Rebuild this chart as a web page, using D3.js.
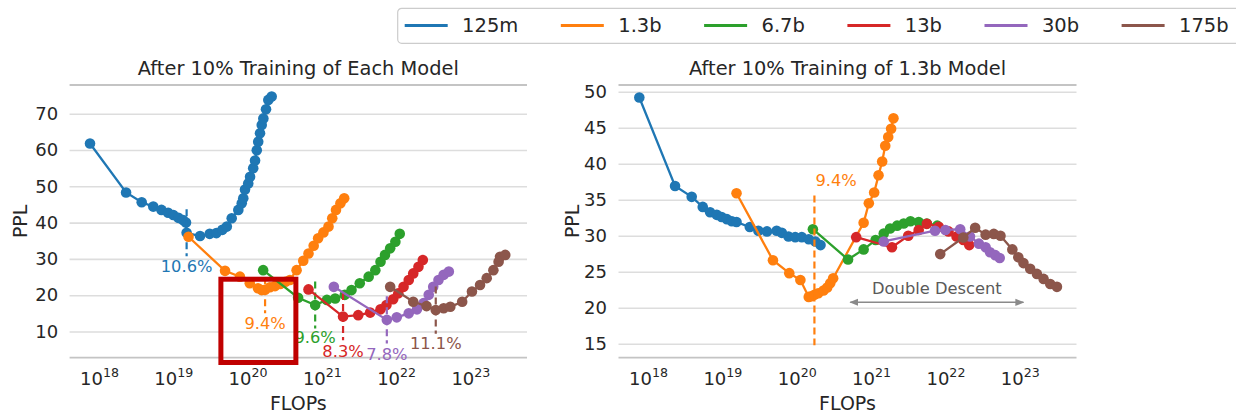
<!DOCTYPE html>
<html><head><meta charset="utf-8">
<script src="https://cdn.jsdelivr.net/npm/d3@7"></script>
<style>
body{margin:0;background:#fff}
svg{display:block}
text{font-family:"DejaVu Sans",sans-serif;fill:#262626}
</style>
</head><body>
<svg id="chart" width="1236" height="413"></svg>
<script>
// ---------- categories / styles ----------
const models = ["125m", "1.3b", "6.7b", "13b", "30b", "175b"];
const colors = ["#1f77b4", "#ff7f0e", "#2ca02c", "#d62728", "#9467bd", "#8c564b"];
const xTickValues = [1e18, 1e19, 1e20, 1e21, 1e22, 1e23];
const xTickExponents = ["18", "19", "20", "21", "22", "23"];
const leftYTicks = [10, 20, 30, 40, 50, 60, 70];
const rightYTicks = [15, 20, 25, 30, 35, 40, 45, 50];
const leftTitle = "After 10% Training of Each Model";
const rightTitle = "After 10% Training of 1.3b Model";

// ---------- left panel: each model's own curve ----------
const leftFlops125m = [7.55e17,2.31e18,3.75e18,5.37e18,6.92e18,8.51e18,1.00e19,1.17e19,1.35e19,1.48e19,1.51e19,2.29e19,3.09e19,3.80e19,4.57e19,5.25e19,6.11e19,7.50e19,8.34e19,8.75e19,9.23e19,1.02e20,1.08e20,1.19e20,1.26e20,1.33e20,1.39e20,1.47e20,1.55e20,1.63e20,1.77e20,1.90e20,2.11e20];
const leftPPL125m   = [61.8,48.3,45.6,44.4,43.5,42.7,42.1,41.3,40.7,40.0,37.2,36.3,36.9,37.1,38.0,38.9,41.2,43.5,45.3,46.7,49.1,50.8,52.6,55.0,57.1,59.9,62.3,64.6,66.9,68.7,71.2,73.8,74.7];
const leftFlops1_3b = [1.60e19,4.97e19,7.89e19,1.07e20,1.38e20,1.55e20,1.72e20,2.00e20,2.34e20,2.75e20,3.24e20,3.72e20,4.57e20,5.62e20,6.61e20,7.76e20,8.91e20,1.05e21,1.23e21,1.38e21,1.55e21,1.78e21,2.00e21];
const leftPPL1_3b   = [36.1,26.7,25.1,23.3,21.9,21.4,21.5,22.2,22.5,23.1,23.7,24.2,26.9,29.5,31.5,33.6,35.7,37.3,38.9,41.2,43.5,45.3,46.7];
const leftFlops6_7b = [1.62e20,4.79e20,8.13e20,1.17e21,1.51e21,2.04e21,2.51e21,3.24e21,4.27e21,5.25e21,6.17e21,7.08e21,8.32e21,9.77e21,1.12e22];
const leftPPL6_7b   = [26.9,19.3,17.3,18.7,19.1,20.1,21.4,23.3,25.1,26.9,29.2,31.1,32.9,34.7,36.9];
const leftFlops13b  = [6.61e20,1.93e21,3.09e21,4.47e21,6.17e21,7.41e21,9.12e21,1.07e22,1.26e22,1.48e22,1.70e22,2.00e22,2.29e22];
const leftPPL13b    = [21.6,14.1,14.5,15.2,16.1,17.3,18.9,20.5,22.3,24.2,26.0,27.8,29.7];
const leftFlops30b  = [1.45e21,7.50e21,1.02e22,1.48e22,1.91e22,2.34e22,2.75e22,3.16e22,3.72e22,4.37e22,5.13e22];
const leftPPL30b    = [22.3,13.2,13.9,15.0,16.1,17.8,20.1,22.3,24.2,25.6,26.5];
const leftFlops175b = [8.32e21,1.70e22,2.57e22,3.42e22,4.37e22,5.37e22,7.76e22,1.05e23,1.35e23,1.66e23,2.04e23,2.40e23,2.51e23,2.95e23];
const leftPPL175b   = [22.3,18.2,17.0,15.9,16.4,16.8,18.2,21.0,22.8,24.7,26.9,29.2,30.6,31.1];

// markers of the 10%-training point in the left panel
const leftPctFlops  = [1.51e19, 1.72e20, 8.13e20, 1.93e21, 7.50e21, 3.42e22];
const leftPctPPL    = [37.2, 21.5, 17.3, 14.1, 13.2, 15.9];
const leftPctLabels = ["10.6%", "9.4%", "9.6%", "8.3%", "7.8%", "11.1%"];

// ---------- right panel: all models at 10% of 1.3b compute ----------
const rightFlops125m = [7.64e17,2.31e18,3.87e18,5.45e18,6.84e18,8.41e18,9.77e18,1.15e19,1.34e19,1.55e19,2.34e19,3.05e19,3.98e19,5.37e19,6.31e19,7.76e19,9.55e19,1.17e20,1.45e20,1.78e20,2.09e20];
const rightPPL125m   = [49.2,36.9,35.4,34.0,33.25,32.9,32.6,32.3,32.0,31.9,31.2,30.7,30.6,30.7,30.4,29.9,29.8,29.8,29.5,29.2,28.7];
const rightFlops1_3b = [1.55e19,4.79e19,7.94e19,1.12e20,1.45e20,1.58e20,1.73e20,1.95e20,2.29e20,2.57e20,2.82e20,3.09e20,7.94e20,9.33e20,1.10e21,1.26e21,1.41e21,1.55e21,1.70e21,1.86e21,2.00e21];
const rightPPL1_3b   = [35.9,26.6,24.8,23.85,21.5,21.6,21.8,22.0,22.4,22.8,23.4,24.1,31.8,34.5,36.0,38.4,40.3,42.5,43.7,44.85,46.3];
const rightFlops6_7b = [1.65e20,4.90e20,7.94e20,1.15e21,1.48e21,1.80e21,2.24e21,2.75e21,3.39e21,4.37e21,5.62e21,7.76e21];
const rightPPL6_7b   = [30.9,26.7,28.1,29.4,30.3,31.0,31.4,31.7,32.0,31.9,31.7,31.4];
const rightFlops13b  = [6.31e20,1.91e21,3.16e21,4.37e21,5.62e21,8.13e21,1.10e22,1.41e22,1.74e22,2.09e22];
const rightPPL13b    = [29.8,28.4,30.0,30.8,31.65,31.25,30.6,29.9,29.4,28.7];
const rightFlops30b  = [1.48e21,7.24e21,1.00e22,1.58e22,2.14e22,2.82e22,3.47e22,3.98e22,4.68e22,5.37e22];
const rightPPL30b    = [29.2,30.7,30.8,30.9,29.9,28.9,28.4,27.7,27.3,26.9];
const rightFlops175b = [8.51e21,1.74e22,2.51e22,3.47e22,4.47e22,5.50e22,7.94e22,9.55e22,1.12e23,1.38e23,1.70e23,2.09e23,2.57e23,3.16e23];
const rightPPL175b   = [27.45,29.75,31.1,30.15,30.25,30.0,28.1,27.0,26.2,25.4,24.7,24.0,23.3,22.9];

const rightPctFlops = 1.73e20;
const rightPctRange = [35.6, 14.8];
const rightPctLabel = "9.4%";
const ddLabel = "Double Descent";
const ddFlops = [5.25e20, 1.12e23];
const ddPPL = 20.75;
const ddLabelPPL = 22.7;

// highlight box on the left panel (flops range, ppl range)
const boxFlops = [4.37e19, 4.47e20];
const boxPPL = [24.4, 1.46];

const leftSeries = [
  [leftFlops125m, leftPPL125m], [leftFlops1_3b, leftPPL1_3b], [leftFlops6_7b, leftPPL6_7b],
  [leftFlops13b, leftPPL13b], [leftFlops30b, leftPPL30b], [leftFlops175b, leftPPL175b]];
const rightSeries = [
  [rightFlops125m, rightPPL125m], [rightFlops1_3b, rightPPL1_3b], [rightFlops6_7b, rightPPL6_7b],
  [rightFlops13b, rightPPL13b], [rightFlops30b, rightPPL30b], [rightFlops175b, rightPPL175b]];

// ---------- drawing ----------
const svg = d3.select("#chart");
const TICK_FS = 18, LABEL_FS = 19, TITLE_FS = 19.4, PCT_FS = 16.3;
const labelNudge = [0, 0, -1.5, 1.5, 1, 0];

function makePanel(cfg) {
  const g = svg.append("g");
  const x = d3.scaleLog().domain([4.01e17, 5.79e23]).range([cfg.left, cfg.right]);
  const y = d3.scaleLinear().domain(cfg.yDomain).range([cfg.bottom, cfg.top]);
  const w = cfg.right - cfg.left;

  const ya = g.append("g").attr("transform", `translate(${cfg.left},0)`)
    .call(d3.axisLeft(y).tickValues(cfg.yTicks).tickSize(-w).tickPadding(11.5));
  ya.select(".domain").remove();
  ya.selectAll(".tick line").attr("stroke", "#dddddd").attr("stroke-width", 1.6);
  ya.selectAll(".tick text").attr("font-size", TICK_FS).attr("font-family", "DejaVu Sans").attr("fill", "#262626");

  g.append("line").attr("x1", cfg.left).attr("x2", cfg.right).attr("y1", cfg.top).attr("y2", cfg.top)
    .attr("stroke", "#c4c4c4").attr("stroke-width", 1.8);
  g.append("line").attr("x1", cfg.left).attr("x2", cfg.right).attr("y1", cfg.bottom).attr("y2", cfg.bottom)
    .attr("stroke", "#c4c4c4").attr("stroke-width", 1.8);

  const xa = g.append("g").attr("transform", `translate(0,${cfg.bottom})`)
    .call(d3.axisBottom(x).tickValues(xTickValues).tickSize(0).tickFormat(""));
  xa.select(".domain").remove();
  xa.selectAll(".tick text").each(function(d, i) {
    const t = d3.select(this);
    t.attr("y", 27.3).attr("dy", null).attr("font-size", TICK_FS).attr("fill", "#262626").attr("font-family", "DejaVu Sans");
    t.append("tspan").text("10");
    t.append("tspan").attr("dy", -8).attr("font-size", TICK_FS * 0.7).text(xTickExponents[i]);
  });

  const cx = (cfg.left + cfg.right) / 2;
  g.append("text").attr("x", cx).attr("y", 75).attr("text-anchor", "middle").attr("font-size", TITLE_FS).text(cfg.title);
  g.append("text").attr("x", cx).attr("y", 410).attr("text-anchor", "middle").attr("font-size", LABEL_FS).text("FLOPs");
  g.append("text").attr("transform", `translate(${cfg.ylabelX},${(cfg.top + cfg.bottom) / 2}) rotate(-90)`)
    .attr("text-anchor", "middle").attr("font-size", LABEL_FS).text("PPL");
  return {g, x, y};
}

function drawSeries(p, flops, ppl, color) {
  const pts = flops.map((f, i) => [f, ppl[i]]);
  p.g.append("path").datum(pts)
    .attr("d", d3.line().x(d => p.x(d[0])).y(d => p.y(d[1])))
    .attr("fill", "none").attr("stroke", color).attr("stroke-width", 2.3);
  p.g.append("g").selectAll("circle").data(pts).join("circle")
    .attr("cx", d => p.x(d[0])).attr("cy", d => p.y(d[1])).attr("r", 5.3).attr("fill", color);
}

// LEFT PANEL
const L = makePanel({left: 69.6, right: 527, top: 85, bottom: 357.7, yDomain: [2.78, 77.9],
  yTicks: leftYTicks, title: leftTitle, ylabelX: 27});
leftSeries.forEach((s, i) => {
  drawSeries(L, s[0], s[1], colors[i]);
  const xx = L.x(leftPctFlops[i]);
  L.g.append("line").attr("x1", xx).attr("x2", xx)
    .attr("y1", L.y(leftPctPPL[i] + 6.5)).attr("y2", L.y(leftPctPPL[i] - 6.5))
    .attr("stroke", colors[i]).attr("stroke-width", 2.2).attr("stroke-dasharray", "7,4");
  L.g.append("text").attr("x", xx).attr("y", L.y(leftPctPPL[i] - 6.5) + 10 + labelNudge[i])
    .attr("text-anchor", "middle").attr("dominant-baseline", "central")
    .attr("font-size", PCT_FS).style("fill", colors[i]).text(leftPctLabels[i]);
});

// RIGHT PANEL
const R = makePanel({left: 618.5, right: 1076.5, top: 85, bottom: 357.7, yDomain: [13.06, 50.93],
  yTicks: rightYTicks, title: rightTitle, ylabelX: 579});
rightSeries.forEach((s, i) => drawSeries(R, s[0], s[1], colors[i]));
{
  const xx = R.x(rightPctFlops);
  R.g.append("line").attr("x1", xx).attr("x2", xx)
    .attr("y1", R.y(rightPctRange[0])).attr("y2", R.y(rightPctRange[1]))
    .attr("stroke", colors[1]).attr("stroke-width", 2.2).attr("stroke-dasharray", "7,4");
  R.g.append("text").attr("x", xx + 1).attr("y", R.y(rightPctRange[0]) - 15)
    .attr("dominant-baseline", "central").attr("font-size", PCT_FS).style("fill", colors[1]).text(rightPctLabel);

  const defs = svg.append("defs");
  defs.append("marker").attr("id", "ah").attr("viewBox", "0 0 10 10").attr("refX", 9).attr("refY", 5)
    .attr("markerWidth", 9).attr("markerHeight", 9).attr("markerUnits", "userSpaceOnUse").attr("orient", "auto-start-reverse")
    .append("path").attr("d", "M0,1 L10,5 L0,9 Z").attr("fill", "#8a8a8a");
  R.g.append("line").attr("x1", R.x(ddFlops[0])).attr("x2", R.x(ddFlops[1]))
    .attr("y1", R.y(ddPPL)).attr("y2", R.y(ddPPL))
    .attr("stroke", "#8a8a8a").attr("stroke-width", 1.6)
    .attr("marker-start", "url(#ah)").attr("marker-end", "url(#ah)");
  R.g.append("text").attr("x", (R.x(ddFlops[0]) + R.x(ddFlops[1])) / 2)
    .attr("y", R.y(ddLabelPPL)).attr("text-anchor", "middle").attr("dominant-baseline", "central")
    .attr("font-family", "Liberation Sans, Arial, sans-serif").attr("font-size", 16.3).style("fill", "#5a5a5a").text(ddLabel);
}

// highlight box
svg.append("rect")
  .attr("x", L.x(boxFlops[0])).attr("y", L.y(boxPPL[0]))
  .attr("width", L.x(boxFlops[1]) - L.x(boxFlops[0])).attr("height", L.y(boxPPL[1]) - L.y(boxPPL[0]))
  .attr("fill", "none").attr("stroke", "#c00000").attr("stroke-width", 5);

// legend
const lg = svg.append("g");
lg.append("rect").attr("x", 397.7).attr("y", 8.3).attr("width", 850).attr("height", 35).attr("rx", 4)
  .attr("fill", "#fff").attr("stroke", "#cccccc").attr("stroke-width", 1.2);
let lx = 404.7;
models.forEach((m, i) => {
  lg.append("line").attr("x1", lx).attr("x2", lx + 43).attr("y1", 25.5).attr("y2", 25.5)
    .attr("stroke", colors[i]).attr("stroke-width", 3);
  const t = lg.append("text").attr("x", lx + 57.4).attr("y", 25.8).attr("dominant-baseline", "central")
    .attr("font-size", 19.5).text(m);
  lx = lx + 57.4 + t.node().getComputedTextLength() + 42.5;
});
</script>
</body></html>
